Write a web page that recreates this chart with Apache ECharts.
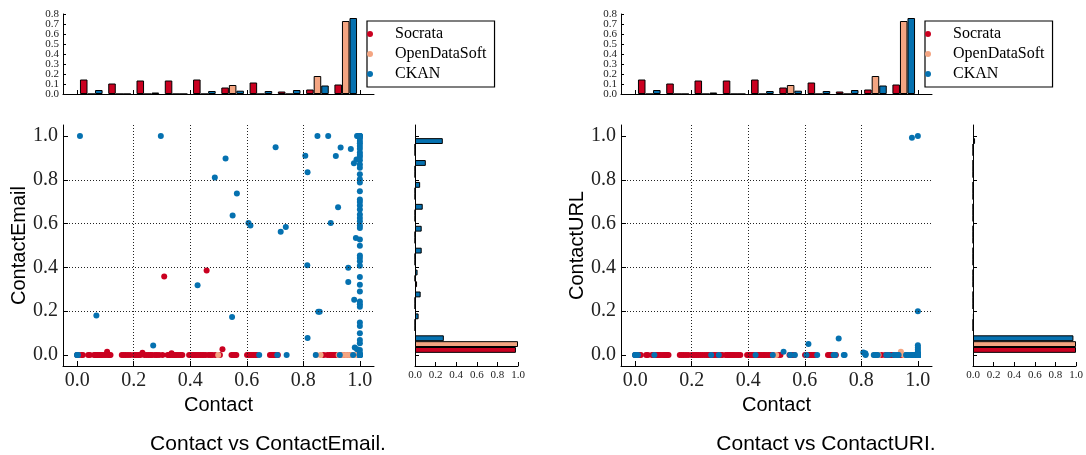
<!DOCTYPE html>
<html><head><meta charset="utf-8">
<script src="https://cdn.jsdelivr.net/npm/echarts@6/dist/echarts.min.js"></script>
<style>html,body{margin:0;padding:0;background:#fff}#c{width:1086px;height:455px}</style>
</head><body><div id="c"></div><script>
// ---------- data ----------
const sources = ['Socrata', 'OpenDataSoft', 'CKAN'];
const colors = ['#ca0020', '#f4a582', '#0571b0'];
const binEdges = [0, 0.1, 0.2, 0.3, 0.4, 0.5, 0.6, 0.7, 0.8, 0.9, 1.0];
const unitTicks = [0, 0.2, 0.4, 0.6, 0.8, 1.0];
const histTicks = [0, 0.1, 0.2, 0.3, 0.4, 0.5, 0.6, 0.7, 0.8];

const socrataContact = [
  0.0, 0.004, 0.015, 0.02, 0.039, 0.045, 0.06, 0.064, 0.068, 0.071, 0.074, 0.078, 0.083, 0.088, 0.095,
  0.102, 0.106, 0.11, 0.114, 0.118, 0.158, 0.165, 0.172, 0.18, 0.188,
  0.2, 0.206, 0.212, 0.218, 0.224, 0.231, 0.238, 0.246, 0.253, 0.26, 0.265, 0.275, 0.282, 0.29,
  0.302, 0.308, 0.32, 0.326, 0.331, 0.334, 0.338, 0.343, 0.348, 0.353, 0.36, 0.366, 0.372, 0.396,
  0.402, 0.408, 0.413, 0.418, 0.424, 0.43, 0.436, 0.442, 0.448, 0.455, 0.458, 0.465, 0.472, 0.478, 0.488,
  0.505, 0.514, 0.546, 0.552, 0.558, 0.563,
  0.601, 0.607, 0.612, 0.618, 0.624, 0.63, 0.636, 0.682, 0.688, 0.693, 0.698,
  0.703, 0.71,
  0.872, 0.885, 0.893, 0.897,
  0.902, 0.906, 0.91, 0.915, 0.932, 0.938, 0.945, 0.958, 0.962];
const socrataEmail = [
  0, 0, 0, 0, 0, 0, 0, 0, 0, 0, 0, 0, 0, 0, 0,
  0, 0.015, 0, 0, 0, 0, 0, 0, 0, 0,
  0, 0, 0, 0, 0, 0.011, 0, 0, 0, 0, 0, 0, 0, 0,
  0, 0.359, 0, 0, 0, 0.008, 0, 0, 0, 0, 0, 0, 0, 0,
  0, 0, 0, 0, 0, 0, 0, 0, 0, 0, 0.386, 0, 0, 0, 0,
  0, 0.026, 0, 0, 0, 0,
  0, 0, 0, 0, 0, 0, 0, 0, 0, 0, 0,
  0, 0,
  0, 0, 0, 0,
  0, 0, 0, 0, 0, 0, 0, 0, 0];
const socrataURL = [
  0, 0, 0, 0, 0, 0, 0, 0, 0, 0, 0, 0, 0, 0, 0,
  0, 0, 0, 0, 0, 0, 0, 0, 0, 0,
  0, 0, 0, 0, 0, 0, 0, 0, 0, 0, 0, 0, 0, 0,
  0, 0, 0, 0, 0, 0, 0, 0, 0, 0, 0, 0, 0, 0,
  0, 0, 0, 0, 0, 0, 0, 0, 0, 0, 0, 0, 0, 0, 0,
  0, 0, 0, 0, 0, 0,
  0, 0, 0, 0, 0, 0, 0, 0, 0, 0, 0,
  0, 0,
  0, 0, 0, 0,
  0, 0, 0, 0, 0, 0, 0, 0, 0];

const odsContact = [0.499, 0.845, 0.861, 0.925, 0.94, 0.95, 0.96, 0.97, 0.98, 0.99, 1.0];
const odsEmail   = [0, 0, 0, 0, 0, 0, 0, 0, 0, 0, 0];
const odsURL     = [0, 0, 0, 0, 0.015, 0, 0, 0, 0, 0, 0];

const ckanContact = [
  0.0, 0.0, 0.003, 0.01, 0.068, 0.269, 0.296, 0.426, 0.487, 0.525,
  0.548, 0.55, 0.565, 0.606, 0.613, 0.644, 0.702, 0.708, 0.72, 0.738,
  0.741, 0.807, 0.814, 0.815, 0.815, 0.844, 0.85, 0.853, 0.858, 0.888,
  0.897, 0.915, 0.923, 0.929, 0.932, 0.959, 0.959, 0.968, 0.976, 0.979,
  0.98, 0.982, 0.986, 0.988, 0.99, 0.99, 0.993,
  1.0, 1.0, 1.0, 1.0, 1.0, 1.0, 1.0, 1.0, 1.0, 1.0,
  1.0, 1.0, 1.0, 1.0, 1.0, 1.0, 1.0, 1.0, 1.0, 1.0,
  1.0, 1.0, 1.0, 1.0, 1.0, 1.0, 1.0, 1.0, 1.0, 1.0,
  1.0, 1.0, 1.0, 1.0, 1.0, 1.0, 1.0, 1.0, 1.0, 1.0,
  1.0, 1.0, 1.0, 1.0, 1.0, 1.0, 1.0, 1.0, 1.0, 1.0,
  1.0, 1.0, 1.0, 1.0, 1.0, 1.0, 1.0];
const ckanEmail = [
  0.0, 0.0, 0.0, 1.0, 0.18, 0.044, 1.0, 0.318, 0.81, 0.897,
  0.174, 0.637, 0.737, 0.603, 0.591, 0.0, 0.948, 0.0, 0.563, 0.585,
  0.0, 0.91, 0.41, 0.834, 0.078, 0.0, 1.0, 0.198, 0.198, 1.0,
  0.603, 0.908, 0.675, 0.0, 0.947, 0.398, 0.333, 0.94, 0.0, 0.875,
  0.252, 0.034, 0.534, 0.893, 0.027, 1.0, 1.0,
  1.0, 1.0, 1.0, 1.0, 0.989, 0.977, 0.967, 0.954, 0.942, 0.924,
  0.913, 0.904, 0.889, 0.87, 0.855, 0.825, 0.802, 0.787, 0.748, 0.71,
  0.698, 0.683, 0.664, 0.641, 0.626, 0.611, 0.591, 0.58, 0.527, 0.499,
  0.454, 0.443, 0.428, 0.408, 0.356, 0.321, 0.29, 0.244, 0.232, 0.221,
  0.148, 0.133, 0.099, 0.069, 0.054, 0.023, 0.008, 0.0, 0.0, 0.0,
  0.0, 0.0, 0.0, 0.0, 0.0, 0.0, 0.0];
const ckanURL = [
  0, 0, 0, 0, 0, 0, 0, 0, 0, 0.015,
  0, 0, 0, 0, 0.05, 0, 0, 0, 0.075, 0,
  0, 0.012, 0.008, 0.004, 0, 0, 0, 0, 0, 0,
  0, 0, 0, 0, 0, 0, 0, 0, 0, 0.992,
  0, 0, 0, 0, 0, 0, 0,
  1.0, 0, 0, 0, 0, 0, 0, 0, 0, 0,
  0, 0, 0, 0, 0, 0, 0, 0, 0, 0,
  0, 0, 0, 0, 0, 0, 0, 0, 0, 0,
  0, 0, 0, 0, 0, 0, 0, 0, 0, 0,
  0, 0, 0.008, 0.015, 0.025, 0.035, 0.045, 0.2, 0.005, 0,
  0, 0, 0, 0, 0, 0, 0];

// normalised histograms (fraction of each portal per bin)
const contactHistSocrata = [0.145, 0.105, 0.135, 0.135, 0.145, 0.065, 0.115, 0.025, 0.045, 0.095];
const contactHistODS     = [0, 0, 0, 0, 0, 0.09, 0, 0, 0.18, 0.73];
const contactHistCKAN    = [0.04, 0, 0.015, 0, 0.03, 0.033, 0.03, 0.04, 0.085, 0.76];
const emailHistSocrata   = [0.98, 0, 0, 0.02, 0, 0, 0, 0, 0, 0];
const emailHistODS       = [1.0, 0, 0, 0, 0, 0, 0, 0, 0, 0];
const emailHistCKAN      = [0.28, 0.035, 0.055, 0.025, 0.065, 0.065, 0.075, 0.05, 0.105, 0.27];
const urlHistSocrata     = [1.0, 0, 0, 0, 0, 0, 0, 0, 0, 0];
const urlHistODS         = [1.0, 0, 0, 0, 0, 0, 0, 0, 0, 0];
const urlHistCKAN        = [0.975, 0.008, 0, 0, 0, 0, 0, 0, 0, 0.02];

// ---------- build ----------
const XMIN = -0.05, XMAX = 1.05;
const serif = 'Liberation Serif', sans = 'Liberation Sans';
const fmt = v => v.toFixed(1);
const binCenters = binEdges.slice(0, -1).map((e, i) => (e + binEdges[i + 1]) / 2);
const binNames = binEdges.slice(0, -1).map((e, i) => e.toFixed(1) + '-' + binEdges[i + 1].toFixed(1));
const histTicksEven = histTicks.filter((t, i) => i % 2 === 0);
const histTicksOdd = histTicks.filter((t, i) => i % 2 === 1);
const grid = [], xAxis = [], yAxis = [], series = [], legend = [], graphic = [];
const axLine = {show: true, onZero: false, lineStyle: {color: '#000', width: 1}};
const barStyle = c => ({color: c, borderColor: '#000', borderWidth: 1});
const tinyFont = {formatter: fmt, fontFamily: serif, fontSize: 11, color: '#222', margin: 4, hideOverlap: false};
const addX = o => { xAxis.push(o); return xAxis.length - 1; };
const addY = o => { yAxis.push(o); return yAxis.length - 1; };

function addPanel(off, yName, caption, contacts, ys, topHists, sideHists) {
  const SC_TOP = 125, SC_H = 241;
  // ---- top histogram
  const gTop = grid.length;
  grid.push({left: 63 + off, top: 14, width: 311, height: 80, outerBoundsMode: 'none'});
  const xTop = addX({gridIndex: gTop, type: 'value', min: XMIN, max: XMAX, axisLine: axLine,
    axisTick: {show: true, inside: true, length: 4, customValues: unitTicks, lineStyle: {color: '#000'}},
    axisLabel: {show: false}, splitLine: {show: false}});
  const yTop = addY({gridIndex: gTop, type: 'value', position: 'left', min: 0, max: 0.8, interval: 0.1,
    axisLine: axLine, axisTick: {show: true, inside: true, length: 3, lineStyle: {color: '#000'}},
    axisLabel: Object.assign({}, tinyFont, {customValues: histTicksEven, showMinLabel: true, showMaxLabel: true}),
    splitLine: {show: false}});
  addY({gridIndex: gTop, type: 'value', position: 'left', offset: 0, min: 0, max: 0.8, interval: 0.1,
    axisLine: {show: false}, axisTick: {show: false},
    axisLabel: Object.assign({}, tinyFont, {customValues: histTicksOdd, showMinLabel: true, showMaxLabel: true}),
    splitLine: {show: false}});
  // ---- scatter
  const gSc = grid.length;
  grid.push({left: 63 + off, top: SC_TOP, width: 311, height: SC_H, outerBoundsMode: 'none'});
  const split = {show: true, showMinLine: false, showMaxLine: false, lineStyle: {color: '#222', width: 1, type: [1, 2]}};
  const bigLabel = {customValues: unitTicks, formatter: fmt, fontFamily: serif, fontSize: 20, color: '#222', margin: 5};
  const xSc = addX({gridIndex: gSc, type: 'value', min: XMIN, max: XMAX, z: 3, axisLine: axLine,
    axisTick: {show: true, inside: true, length: 5, customValues: unitTicks, lineStyle: {color: '#000'}},
    axisLabel: bigLabel, splitLine: split, name: 'Contact', nameLocation: 'middle', nameGap: 26,
    nameTextStyle: {fontFamily: sans, fontSize: 20, color: '#000'}});
  const ySc = addY({gridIndex: gSc, type: 'value', min: XMIN, max: XMAX, z: 3, axisLine: axLine,
    axisTick: {show: true, inside: true, length: 5, customValues: unitTicks, lineStyle: {color: '#000'}},
    axisLabel: bigLabel, splitLine: split, name: yName, nameLocation: 'middle', nameGap: 33,
    nameTextStyle: {fontFamily: sans, fontSize: 20, color: '#000'}});
  // ---- side histogram: spine grid
  const gSp = grid.length;
  grid.push({left: 415 + off, top: SC_TOP, width: 103, height: SC_H, outerBoundsMode: 'none'});
  addX({gridIndex: gSp, type: 'value', min: 0, max: 1, interval: 0.2, axisLine: axLine,
    axisTick: {show: true, inside: true, length: 4, lineStyle: {color: '#000'}},
    axisLabel: Object.assign({}, tinyFont, {showMinLabel: true, showMaxLabel: true,
      alignMinLabel: 'center', alignMaxLabel: 'center'}),
    splitLine: {show: false}});
  addY({gridIndex: gSp, type: 'value', min: XMIN, max: XMAX, axisLine: axLine,
    axisTick: {show: true, inside: true, length: 4, customValues: unitTicks, lineStyle: {color: '#000'}},
    axisLabel: {show: false}, splitLine: {show: false}});
  // ---- side histogram: bar grid covering 0..1 of the scatter y range
  const pxPerUnit = SC_H / (XMAX - XMIN);
  const gBar = grid.length;
  grid.push({left: 415 + off, top: SC_TOP + (XMAX - 1) * pxPerUnit, width: 103, height: pxPerUnit, outerBoundsMode: 'none'});
  const xBar = addX({gridIndex: gBar, type: 'value', min: 0, max: 1, show: false});
  const yBar = addY({gridIndex: gBar, type: 'category', data: binNames, show: false});

  sources.forEach((name, s) => {
    series.push({type: 'bar', name, xAxisIndex: xTop, yAxisIndex: yTop,
      data: binCenters.map((c, i) => [c, topHists[s][i]]),
      barGap: '0%', barCategoryGap: '20%', itemStyle: barStyle(colors[s])});
  });
  // horizontal bars: listed so that Socrata sits lowest in each bin
  [2, 1, 0].forEach(s => {
    series.push({type: 'bar', name: sources[s], xAxisIndex: xBar, yAxisIndex: yBar,
      data: sideHists[s], barGap: '0%', barCategoryGap: '20%', itemStyle: barStyle(colors[s])});
  });
  sources.forEach((name, s) => {
    series.push({type: 'scatter', name, xAxisIndex: xSc, yAxisIndex: ySc,
      data: contacts[s].map((x, i) => [x, ys[s][i]]),
      symbolSize: 6, itemStyle: {color: colors[s], opacity: 1}, z: 2});
  });
  legend.push({orient: 'vertical', left: 367 + off, top: 21, padding: [3, 8, 3, 0], itemGap: 0,
    itemWidth: 40, itemHeight: 6, borderColor: '#000', borderWidth: 1.2, backgroundColor: '#fff',
    selectedMode: false, itemStyle: {borderWidth: 0, borderColor: 'transparent'},
    textStyle: {fontFamily: serif, fontSize: 16, color: '#000', lineHeight: 20},
    data: sources.map((n, s) => ({name: n, icon: 'circle',
      itemStyle: {color: colors[s], borderWidth: 0, borderColor: 'transparent'}}))});
  graphic.push({type: 'text', x: 268 + off, y: 444,
    style: {text: caption, font: '21px "Liberation Sans"', fill: '#000',
      align: 'center', verticalAlign: 'middle', textAlign: 'center', textVerticalAlign: 'middle'}});
}

const contacts = [socrataContact, odsContact, ckanContact];
const topHists = [contactHistSocrata, contactHistODS, contactHistCKAN];
addPanel(0, 'ContactEmail', 'Contact vs ContactEmail.', contacts,
  [socrataEmail, odsEmail, ckanEmail], topHists, [emailHistSocrata, emailHistODS, emailHistCKAN]);
addPanel(558, 'ContactURL', 'Contact vs ContactURI.', contacts,
  [socrataURL, odsURL, ckanURL], topHists, [urlHistSocrata, urlHistODS, urlHistCKAN]);

const chart = echarts.init(document.getElementById('c'), null, {renderer: 'canvas'});
chart.setOption({
  animation: false,
  backgroundColor: '#fff',
  grid, xAxis, yAxis, series, legend, graphic
});
</script></body></html>
